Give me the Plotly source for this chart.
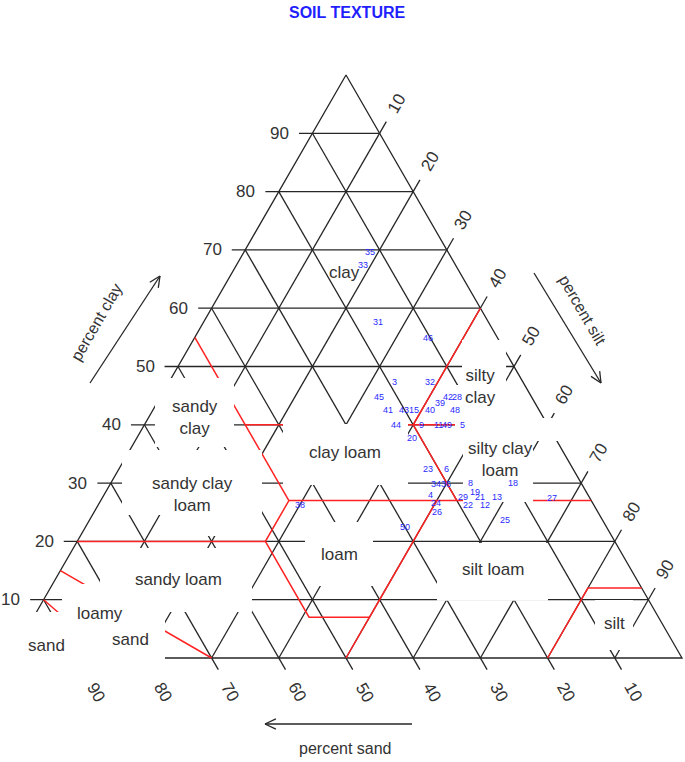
import math
import plotly.graph_objects as go

# ---------------- data ----------------
TICKS = [10, 20, 30, 40, 50, 60, 70, 80, 90]
TICK_TEXT = ["10", "20", "30", "40", "50", "60", "70", "80", "90"]

# USDA texture-class boundaries (red), polylines separated by None: (sand, silt, clay) %
BND_SAND = [0, 20, 20, None, 20, 0, None, 45, 45, None, 45, 20, None, 45, 0, None,
            65, 45, None, 80, 52, 45, None, 52, 52, 43, 23, None, 43, 50, None,
            20, 8, 0, None, 85, 70, None, 90, 85]
BND_SILT = [40, 40, 53, None, 40, 60, None, 0, 28, None, 15, 40, None, 28, 73, None,
            0, 20, None, 0, 28, 28, None, 28, 41, 50, 50, None, 50, 50, None,
            80, 80, 88, None, 0, 30, None, 0, 15]
BND_CLAY = [60, 40, 27, None, 40, 40, None, 55, 27, None, 40, 40, None, 27, 27, None,
            35, 35, None, 20, 20, 27, None, 20, 7, 7, 27, None, 7, 0, None,
            0, 12, 12, None, 15, 0, None, 10, 0]

# texture class labels
CLASS_TEXT = ["clay", "silty<br>clay", "sandy<br>clay", "clay loam", "silty clay<br>loam",
              "sandy clay<br>loam", "loam", "silt loam", "sandy loam", "loamy", "sand",
              "sand", "silt"]
CLASS_SAND = [17.1, 6.8, 51.9, 32.6, 9.9, 58.9, 42.1, 20.6, 68.3, 82.7, 80.5, 93.4, 7.0]
CLASS_SILT = [16.7, 46.7, 6.9, 32.2, 56.0, 13.1, 40.1, 64.3, 18.3, 9.6, 16.4, 4.4, 87.0]
CLASS_CLAY = [66.2, 46.5, 41.2, 35.2, 34.1, 28.0, 17.8, 15.1, 13.4, 7.7, 3.1, 2.2, 6.0]

# soil samples (numbered)
SAMPLE_ID = ["35", "33", "31", "46", "3", "32", "45", "39", "42", "28", "41", "43", "15",
             "40", "48", "44", "9", "11", "49", "5", "20", "23", "6", "34", "36", "8",
             "18", "19", "4", "29", "21", "13", "24", "22", "12", "26", "25", "50",
             "27", "38"]
SAMPLE_CLAY = [69.6, 67.4, 57.6, 54.9, 47.3, 47.3, 44.8, 43.7, 44.8, 44.8, 42.5, 42.5, 42.5,
               42.5, 42.5, 40.0, 40.0, 40.0, 40.0, 40.0, 37.7, 32.4, 32.4, 29.8, 29.8, 30.0,
               30.0, 28.5, 28.0, 27.6, 27.6, 27.6, 26.6, 26.2, 26.2, 25.0, 23.7, 22.5,
               27.4, 26.2]
SAMPLE_SILT = [18.8, 18.8, 26.0, 34.8, 33.6, 38.8, 32.5, 42.1, 42.8, 44.1, 35.0, 37.4, 38.9,
               41.3, 45.0, 37.4, 41.3, 43.7, 45.0, 47.4, 40.9, 46.0, 48.8, 48.5, 50.0, 53.5,
               59.9, 55.0, 48.5, 53.6, 56.1, 58.7, 50.1, 55.1, 57.6, 51.0, 61.8, 47.5,
               67.0, 30.1]
SAMPLE_SAND = [round(100 - c - s, 1) for c, s in zip(SAMPLE_CLAY, SAMPLE_SILT)]

# ---------------- geometry (plot area in pixel units) ----------------
XL, XR, YB, YT = 10.0, 682.0, 658.0, 75.0
TICK_EXT = 2.0  # tick length, in percent


def proj(sand, silt, clay):
    if clay is None:
        return None, None
    x = XL + (XR - XL) * (silt + clay / 2.0) / 100.0
    y = YB - (YB - YT) * clay / 100.0
    return x, y


def polyline(sands, silts, clays):
    xs, ys = [], []
    for s, si, c in zip(sands, silts, clays):
        x, y = proj(s, si, c)
        xs.append(x)
        ys.append(y)
    return xs, ys


# grid: constant clay / sand / silt lines with tick extensions, plus edges
gs, gsi, gc = [], [], []
for k in TICKS:
    gs += [100 - k + TICK_EXT, 0, None]
    gsi += [-TICK_EXT, 100 - k, None]
    gc += [k, k, None]
    gs += [k, k, None]
    gsi += [0, 100 - k + TICK_EXT, None]
    gc += [100 - k, -TICK_EXT, None]
    gs += [100 - k, -TICK_EXT, None]
    gsi += [k, k, None]
    gc += [0, 100 - k + TICK_EXT, None]
gs += [100, 0, 0, 100]
gsi += [0, 0, 100, 0]
gc += [0, 100, 0, 0]

gx, gy = polyline(gs, gsi, gc)
rx, ry = polyline(BND_SAND, BND_SILT, BND_CLAY)

fig = go.Figure()
fig.add_trace(go.Scatter(x=gx, y=gy, mode="lines",
                         line=dict(color="#262626", width=1.3),
                         hoverinfo="skip", showlegend=False))
fig.add_trace(go.Scatter(x=rx, y=ry, mode="lines",
                         line=dict(color="#ff2222", width=1.5),
                         hoverinfo="skip", showlegend=False))

# white masks (label backgrounds / faded parts of the printed grid), pixel units
MASKS = [
    (155, 234, 378, 447),   # sandy clay
    (122, 262, 450, 515),   # sandy clay loam
    (165, 258, 515, 536),
    (283, 408, 424, 485),   # clay loam
    (305, 373, 522, 586),   # loam
    (437, 548, 543, 600.8),  # silt loam
    (462, 506, 340, 385),   # silty
    (455, 508, 385, 445),   # clay
    (508, 558, 418, 441),   # 60 label
    (463, 533, 441, 502),   # silty clay loam
    (595, 633, 600, 650),   # silt
    (100, 252, 548, 612),   # sandy loam
    (62, 100, 584, 612),
    (62, 165, 606, 612),
    (0, 165, 612, 672),     # loamy sand / sand
]
shapes = []
for x0, x1, y0, y1 in MASKS:
    shapes.append(dict(type="rect", xref="x", yref="y", x0=x0, x1=x1, y0=y0, y1=y1,
                       fillcolor="white", line=dict(width=0), layer="above"))


def arrow(x0, y0, x1, y1, head=12, spread=25):
    ang = math.atan2(y1 - y0, x1 - x0)
    out = [dict(type="line", xref="x", yref="y", x0=x0, y0=y0, x1=x1, y1=y1,
                line=dict(color="#262626", width=1.3), layer="above")]
    for sgn in (-1, 1):
        a = ang + math.pi + sgn * math.radians(spread)
        out.append(dict(type="line", xref="x", yref="y", x0=x1, y0=y1,
                        x1=x1 + head * math.cos(a), y1=y1 + head * math.sin(a),
                        line=dict(color="#262626", width=1.3), layer="above"))
    return out


shapes += arrow(90, 383, 160, 276)
shapes += arrow(534, 273, 601, 383)
shapes += arrow(412, 724, 265, 724)

FONT = "Liberation Sans, Arial, sans-serif"
ann = []
for t, s, si, c in zip(CLASS_TEXT, CLASS_SAND, CLASS_SILT, CLASS_CLAY):
    x, y = proj(s, si, c)
    ann.append(dict(x=x, y=y, xref="x", yref="y", text=t, showarrow=False,
                    font=dict(family=FONT, size=17, color="#333333")))
for t, s, si, c in zip(SAMPLE_ID, SAMPLE_SAND, SAMPLE_SILT, SAMPLE_CLAY):
    x, y = proj(s, si, c)
    ann.append(dict(x=x, y=y, xref="x", yref="y", text=t, showarrow=False,
                    font=dict(family=FONT, size=9, color="#2a2aff")))
for k, t in zip(TICKS, TICK_TEXT):
    x, y = proj(100 - k, 0, k)
    ann.append(dict(x=x - 33, y=y, xref="x", yref="y", text=t, showarrow=False,
                    font=dict(family=FONT, size=17, color="#333333")))
    x, y = proj(0, k, 100 - k)
    ann.append(dict(x=x + 17, y=y - 30, xref="x", yref="y", text=t, showarrow=False,
                    textangle=-60, font=dict(family=FONT, size=17, color="#333333")))
    x, y = proj(k, 100 - k, 0)
    ann.append(dict(x=x + 19, y=y + 34, xref="x", yref="y", text=t, showarrow=False,
                    textangle=60, font=dict(family=FONT, size=17, color="#333333")))
ann.append(dict(x=96, y=322, xref="x", yref="y", text="percent clay", showarrow=False,
                textangle=-60, font=dict(family=FONT, size=16, color="#333333")))
ann.append(dict(x=583, y=310, xref="x", yref="y", text="percent silt", showarrow=False,
                textangle=60, font=dict(family=FONT, size=16, color="#333333")))
ann.append(dict(x=345, y=748, xref="x", yref="y", text="percent sand", showarrow=False,
                font=dict(family=FONT, size=16, color="#333333")))
ann.append(dict(x=347, y=12, xref="x", yref="y", text="<b>SOIL TEXTURE</b>", showarrow=False,
                font=dict(family=FONT, size=16, color="#1f1fff")))

fig.update_layout(
    width=685, height=762,
    margin=dict(l=0, r=0, t=0, b=0),
    paper_bgcolor="white", plot_bgcolor="white",
    xaxis=dict(range=[0, 685], visible=False, fixedrange=True),
    yaxis=dict(range=[762, 0], visible=False, fixedrange=True),
    shapes=shapes, annotations=ann, showlegend=False,
)
fig.write_html("out.html", config={"displayModeBar": False},
               post_script="document.body.style.margin='0';")
